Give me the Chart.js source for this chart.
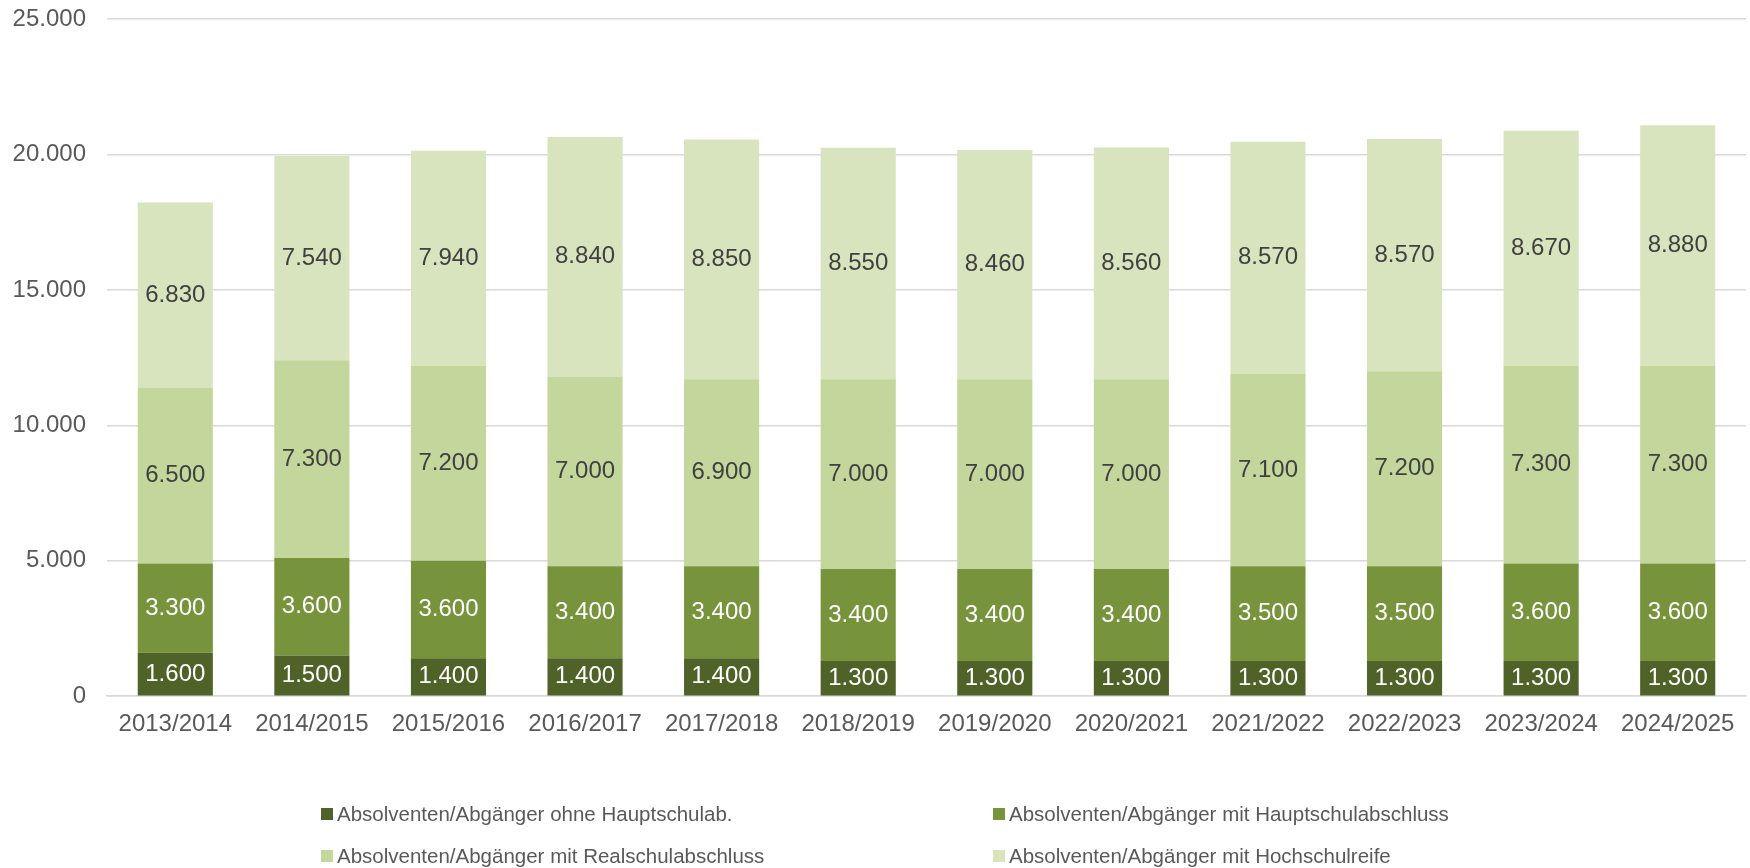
<!DOCTYPE html>
<html>
<head>
<meta charset="utf-8">
<script src="https://cdn.jsdelivr.net/npm/chart.js@4/dist/chart.umd.min.js"></script>
<style>
  html, body { margin: 0; padding: 0; background: #fff; }
  #wrap { position: relative; width: 1750px; height: 868px; }
  #legend { position: absolute; left: 321px; top: 800px; width: 1400px;
    display: grid; grid-template-columns: 672px 672px; row-gap: 14px;
    font-family: "Liberation Sans", Arial, sans-serif; font-size: 20.5px; color: #595959; }
  #legend .item { display: flex; align-items: center; height: 28px; white-space: nowrap; }
  #legend .box { width: 12px; height: 12px; margin-right: 4px; }
</style>
</head>
<body>
<div id="wrap">
  <canvas id="chart" width="1750" height="868"></canvas>
  <div id="legend"></div>
</div>
<script>
const years = ['2013/2014', '2014/2015', '2015/2016', '2016/2017', '2017/2018', '2018/2019',
  '2019/2020', '2020/2021', '2021/2022', '2022/2023', '2023/2024', '2024/2025'];

const ohneHauptschul = [1600, 1500, 1400, 1400, 1400, 1300, 1300, 1300, 1300, 1300, 1300, 1300];
const mitHauptschul = [3300, 3600, 3600, 3400, 3400, 3400, 3400, 3400, 3500, 3500, 3600, 3600];
const mitRealschul = [6500, 7300, 7200, 7000, 6900, 7000, 7000, 7000, 7100, 7200, 7300, 7300];
const mitHochschulreife = [6830, 7540, 7940, 8840, 8850, 8550, 8460, 8560, 8570, 8570, 8670, 8880];

const seriesNames = [
  'Absolventen/Abgänger ohne Hauptschulab.',
  'Absolventen/Abgänger mit Hauptschulabschluss',
  'Absolventen/Abgänger mit Realschulabschluss',
  'Absolventen/Abgänger mit Hochschulreife',
];
const seriesColors = ['#4f6228', '#77933c', '#c3d69b', '#d7e4bd'];
const labelColors = ['#ffffff', '#ffffff', '#404040', '#404040'];

const FONT = '"Liberation Sans", Arial, sans-serif';

function fmt(v) {
  return String(v).replace(/\B(?=(\d{3})+(?!\d))/g, '.');
}

// Werte mittig in die Segmente schreiben
const segmentLabels = {
  id: 'segmentLabels',
  afterDatasetsDraw(chart) {
    const ctx = chart.ctx;
    ctx.save();
    ctx.font = '24px ' + FONT;
    ctx.textAlign = 'center';
    ctx.textBaseline = 'middle';
    chart.data.datasets.forEach((ds, i) => {
      const meta = chart.getDatasetMeta(i);
      meta.data.forEach((bar, j) => {
        ctx.fillStyle = labelColors[i];
        ctx.fillText(fmt(ds.data[j]), bar.x, (bar.y + bar.base) / 2);
      });
    });
    ctx.restore();
  }
};

const data = [ohneHauptschul, mitHauptschul, mitRealschul, mitHochschulreife];

const chart = new Chart(document.getElementById('chart'), {
  type: 'bar',
  data: {
    labels: years,
    datasets: data.map((d, i) => ({
      label: seriesNames[i],
      data: d,
      backgroundColor: seriesColors[i],
      borderWidth: 0,
      categoryPercentage: 1,
      barPercentage: 0.55,
    })),
  },
  options: {
    responsive: false,
    animation: false,
    layout: { padding: { top: 19, right: 4, bottom: 123, left: 13 } },
    plugins: {
      legend: { display: false },
      tooltip: { enabled: false },
    },
    scales: {
      x: {
        stacked: true,
        grid: { display: false },
        border: { color: '#d9d9d9', width: 1.5 },
        ticks: { color: '#595959', font: { family: FONT, size: 24 }, padding: 6, maxRotation: 0 },
        afterFit: (s) => { s.paddingLeft = 0; s.paddingRight = 0; },
      },
      y: {
        stacked: true,
        min: 0,
        max: 25000,
        grid: { color: '#d9d9d9', lineWidth: 1.5, drawTicks: false },
        border: { display: false },
        ticks: {
          stepSize: 5000,
          color: '#595959',
          font: { family: FONT, size: 24 },
          padding: 21,
          callback: (v) => fmt(v),
        },
        afterFit: (s) => { s.width = 94; s.paddingTop = 0; s.paddingBottom = 0; },
      },
    },
  },
  plugins: [segmentLabels],
});

// Legende als Raster mit zwei Spalten
const legend = document.getElementById('legend');
chart.data.datasets.forEach((ds) => {
  const item = document.createElement('div');
  item.className = 'item';
  const box = document.createElement('span');
  box.className = 'box';
  box.style.background = ds.backgroundColor;
  const text = document.createElement('span');
  text.textContent = ds.label;
  item.appendChild(box);
  item.appendChild(text);
  legend.appendChild(item);
});
</script>
</body>
</html>
